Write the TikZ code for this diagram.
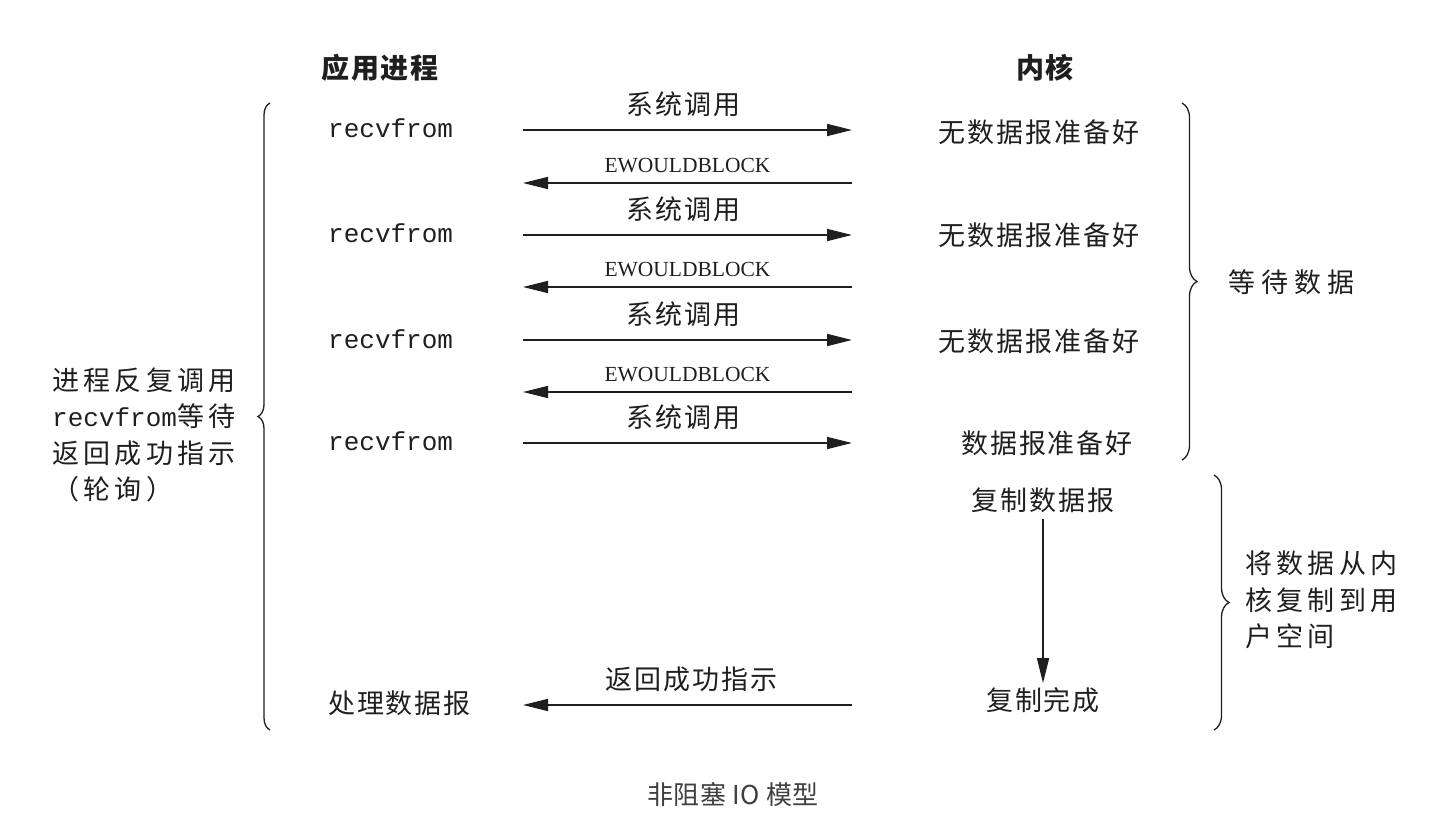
\documentclass[tikz,border=0pt]{standalone}
\usepackage{fontspec}
\setmainfont{Liberation Serif}
\newfontfamily\cjk{Noto Sans CJK SC}
\newfontfamily\mono{Liberation Mono}
\usetikzlibrary{arrows.meta,decorations.pathreplacing}
\begin{document}
\begin{tikzpicture}[x=1pt,y=-1pt,
  ink/.style={color=black!88},
  head/.style={ink,inner sep=0pt,font=\cjk\bfseries\fontsize{28}{32}\selectfont\addfontfeature{LetterSpace=6}},
  ztext/.style={ink,inner sep=0pt,font=\cjk\fontsize{27}{30}\selectfont\addfontfeature{LetterSpace=7}},
  widetext/.style={ink,inner sep=0pt,font=\cjk\fontsize{27}{30}\selectfont\addfontfeature{LetterSpace=22}},
  calltext/.style={ink,inner sep=0pt,font=\mono\fontsize{26}{30}\selectfont},
  errtext/.style={ink,inner sep=0pt,font=\fontsize{21.5}{24}\selectfont},
  sidetext/.style={ink,inner sep=0pt,align=left,font=\cjk\fontsize{27}{36.5}\selectfont\addfontfeature{LetterSpace=16}},
  msg/.style={ink,line width=1.5pt,-{Triangle[length=25pt,width=12pt]}},
  curly/.style={ink,line width=1.3pt,decorate,decoration={brace,amplitude=#1}}
]
\useasboundingbox (0,0) rectangle (1448,840);

% column headers
\node[head] (hp) at (380,68) {应用进程};
\node[head] (hk) at (1045,68) {内核};

% application side
\node[calltext,anchor=west] (r1) at (328,128) {recvfrom};
\node[calltext,anchor=west] (r2) at (328,233) {recvfrom};
\node[calltext,anchor=west] (r3) at (328,339) {recvfrom};
\node[calltext,anchor=west] (r4) at (328,441) {recvfrom};
\node[ztext,anchor=west] (proc) at (328,703) {处理数据报};

% kernel side
\node[ztext] (k1) at (1039,132) {无数据报准备好};
\node[ztext] (k2) at (1039,235) {无数据报准备好};
\node[ztext] (k3) at (1039,341) {无数据报准备好};
\node[ztext] (k4) at (1047,443) {数据报准备好};
\node[ztext] (copy) at (1043,500) {复制数据报};
\node[ztext] (done) at (1043,700) {复制完成};

% arrow ends between the two columns
\foreach \n/\y in {1/130,2/183,3/235,4/287,5/340,6/392,7/443,8/705}{
  \coordinate (a\n) at (523,\y);
  \coordinate (b\n) at (852,\y);
}

% system calls and replies
\draw[msg] (a1) -- (b1) node[ztext,midway,above=12pt,xshift=-4pt] (c1) {系统调用};
\draw[msg] (b2) -- (a2) node[errtext,midway,above=9pt] (e1) {EWOULDBLOCK};
\draw[msg] (a3) -- (b3) node[ztext,midway,above=12pt,xshift=-4pt] (c2) {系统调用};
\draw[msg] (b4) -- (a4) node[errtext,midway,above=9pt] (e2) {EWOULDBLOCK};
\draw[msg] (a5) -- (b5) node[ztext,midway,above=12pt,xshift=-4pt] (c3) {系统调用};
\draw[msg] (b6) -- (a6) node[errtext,midway,above=9pt] (e3) {EWOULDBLOCK};
\draw[msg] (a7) -- (b7) node[ztext,midway,above=12pt,xshift=-4pt] (c4) {系统调用};
\draw[msg] (b8) -- (a8) node[ztext,midway,above=12pt,xshift=4pt] (ok) {返回成功指示};

% copy into user space
\draw[msg,shorten <=6pt,shorten >=4pt] (copy.south) -- (done.north);

% braces
\coordinate (lb1) at (270,730);
\coordinate (lb2) at (270,103);
\draw[curly=12pt] (lb1) -- (lb2);
\coordinate (rb1) at (1182,103);
\coordinate (rb2) at (1182,460);
\draw[curly=15pt] (rb1) -- (rb2);
\coordinate (rc1) at (1214,475);
\coordinate (rc2) at (1214,730);
\draw[curly=15pt] (rc1) -- (rc2);

% brace labels
\node[sidetext,anchor=west] (poll) at (52,435)
  {进程反复调用\\{\mono\addfontfeature{LetterSpace=0}\fontsize{26}{30}\selectfont recvfrom}等待\\返回成功指示\\（轮询）};
\node[widetext,anchor=west] (wait) at (1228,282) {等待数据};
\node[sidetext,anchor=west] (cp) at (1245,600) {将数据从内\\核复制到用\\户空间};

% caption
\node[inner sep=0pt,color=black!75,font=\cjk\fontsize{26}{28}\selectfont\addfontfeature{LetterSpace=2}] (cap) at (733,795) {非阻塞 IO 模型};
\end{tikzpicture}
\end{document}
